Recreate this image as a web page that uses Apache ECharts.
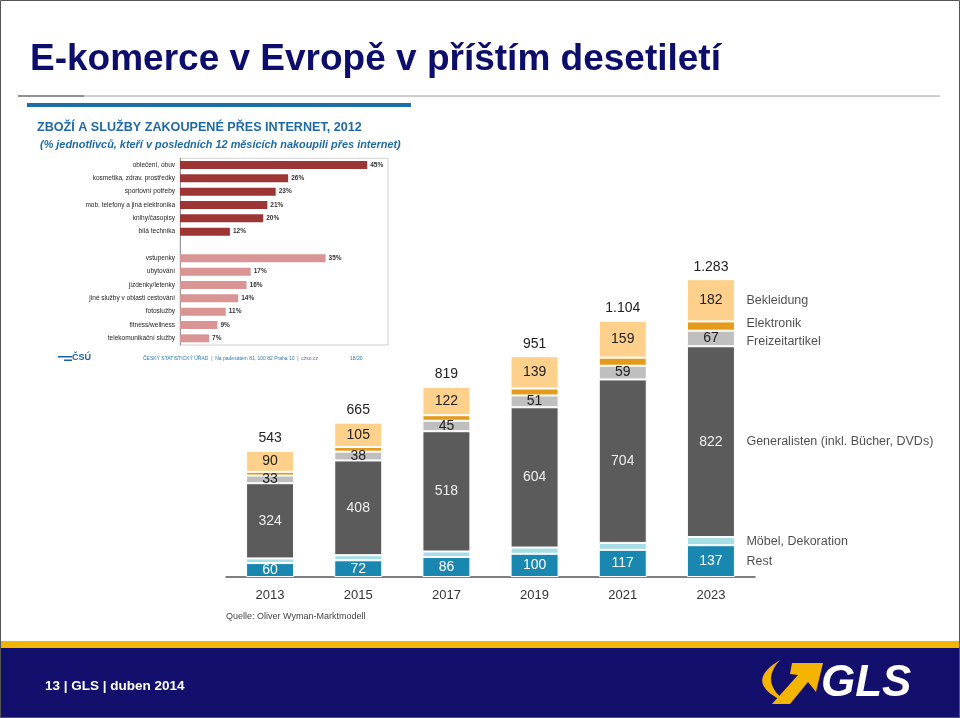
<!DOCTYPE html>
<html>
<head>
<meta charset="utf-8">
<script src="https://cdn.jsdelivr.net/npm/echarts@6/dist/echarts.min.js"></script>
<style>
html,body{margin:0;padding:0;background:#fff;}
#c{width:960px;height:718px;}
</style>
</head>
<body>
<div id="c"></div>
<script>
// ---- Main stacked chart data ----
const years = ['2013','2015','2017','2019','2021','2023'];
const rest = [60,72,86,100,117,137];
const moebel = [20,22,24,27,30,35];
const generalisten = [324,408,518,604,704,822];
const freizeit = [33,38,45,51,59,67];
const elektronik = [16,20,24,30,35,40];
const bekleidung = [90,105,122,139,159,182];
const totals = [543,665,819,951,1104,1283];
const totalLabels = ['543','665','819','951','1.104','1.283'];
const segmentNames = ['Rest','Möbel, Dekoration','Generalisten (inkl. Bücher, DVDs)','Freizeitartikel','Elektronik','Bekleidung'];

// ---- Inset chart (ČSÚ, 2012) ----
const goodsCats = ['oblečení, obuv','kosmetika, zdrav. prostředky','sportovní potřeby','mob. telefony a jiná elektronika','knihy/časopisy','bílá technika'];
const goodsVals = [45,26,23,21,20,12];
const serviceCats = ['vstupenky','ubytování','jízdenky/letenky','jiné služby v oblasti cestování','fotoslužby','fitness/wellness','telekomunikační služby'];
const serviceVals = [35,17,16,14,11,9,7];

const FONT = '"Liberation Sans", Arial, sans-serif';

const segColors = ['#1a87b0','#a6dde6','#5b5b5b','#bfbfbf','#e49b1c','#fdd18b'];
const segData = [rest, moebel, generalisten, freizeit, elektronik, bekleidung];
const segLabelShow = [true,false,true,true,false,true];
const segLabelColor = ['#ffffff','#222','#eeeeee','#222','#222','#222'];

const series = [];
segData.forEach((d, i) => {
  series.push({
    type: 'bar', name: segmentNames[i], stack: 'total',
    xAxisIndex: 0, yAxisIndex: 0,
    barWidth: 48,
    data: d,
    itemStyle: { color: segColors[i], borderColor: '#ffffff', borderWidth: 1 },
    label: { show: segLabelShow[i], position: 'inside', color: segLabelColor[i],
             fontFamily: FONT, fontSize: 14 },
    emphasis: { disabled: true }
  });
});
// totals above each column
series.push({
  type: 'line', xAxisIndex: 0, yAxisIndex: 0,
  data: totals, symbol: 'circle', symbolSize: 1, showSymbol: true,
  itemStyle: { color: 'rgba(0,0,0,0)' }, lineStyle: { width: 0, color: 'rgba(0,0,0,0)' },
  label: { show: true, position: 'top', distance: 5, color: '#222', fontFamily: FONT, fontSize: 14,
           formatter: p => totalLabels[p.dataIndex] },
  emphasis: { disabled: true },
  z: 10
});
// segment names beside the last column
const last = years.length - 1;
let cum = 0;
const nameMids = segData.map(d => { const m = cum + d[last] / 2; cum += d[last]; return m; });
const nameNudge = [0, 0, 0, 3, -3, 0];
series.push({
  type: 'scatter', xAxisIndex: 0, yAxisIndex: 0,
  symbolSize: 1, itemStyle: { color: 'rgba(0,0,0,0)' },
  data: nameMids.map((v, i) => ({ value: [last, v], name: segmentNames[i],
         label: { offset: [0, nameNudge[i]] } })),
  label: { show: true, position: 'right', distance: 35, color: '#1e1e1e', fontFamily: FONT, fontSize: 12.5,
           formatter: p => p.name },
  emphasis: { disabled: true },
  z: 10
});

const insetCats = goodsCats.concat([''], serviceCats);
const insetVals = goodsVals.map(v => ({ value: v, itemStyle: { color: '#9e3535' } }))
  .concat(['-'], serviceVals.map(v => ({ value: v, itemStyle: { color: '#d99594' } })));
series.push({
  type: 'bar', xAxisIndex: 1, yAxisIndex: 1,
  barWidth: 8, data: insetVals,
  label: { show: true, position: 'right', distance: 3, formatter: '{c}%', fontSize: 6.5,
           fontWeight: 'bold', color: '#333', fontFamily: FONT },
  emphasis: { disabled: true }
});

function txt(x, y, text, font, fill) {
  return { type: 'text', x: x, y: y, style: { text: text, font: font, fill: fill, verticalAlign: 'middle', align: 'left' } };
}
function bez(p0, p1, p2, n) {
  const pts = [];
  for (let k = 0; k <= n; k++) {
    const t = k / n, a = (1 - t) * (1 - t), b = 2 * (1 - t) * t, c = t * t;
    pts.push([a * p0[0] + b * p1[0] + c * p2[0], a * p0[1] + b * p1[1] + c * p2[1]]);
  }
  return pts;
}
const crescent = bez([780, 660], [740, 684], [790, 704], 20).concat(bez([790, 704], [758, 684], [780, 660], 20).slice(1));

const chart = echarts.init(document.getElementById('c'), null, { renderer: 'canvas' });
chart.setOption({
  animation: false,
  backgroundColor: '#ffffff',
  grid: [
    { left: 226, width: 529, top: 252, height: 325 },
    { left: 180, width: 208, top: 158.3, height: 186.7, show: true, borderColor: '#d0d0d0', borderWidth: 1 }
  ],
  xAxis: [
    { type: 'category', gridIndex: 0, data: years,
      axisLine: { lineStyle: { color: '#555', width: 1.5 } }, axisTick: { show: false },
      axisLabel: { color: '#333', fontFamily: FONT, fontSize: 13, margin: 12 } },
    { type: 'value', gridIndex: 1, min: 0, max: 50, show: false }
  ],
  yAxis: [
    { type: 'value', gridIndex: 0, min: 0, max: 1400, show: false },
    { type: 'category', gridIndex: 1, data: insetCats, inverse: true,
      axisLine: { lineStyle: { color: '#999', width: 1 } }, axisTick: { show: false },
      axisLabel: { color: '#222', fontFamily: FONT, fontSize: 6.5, margin: 5, interval: 0 } }
  ],
  series: series,
  graphic: [
    { type: 'rect', shape: { x: 0.5, y: 0.5, width: 959, height: 717 }, style: { fill: 'none', stroke: '#555', lineWidth: 1 }, z: 100 },
    txt(30, 60, 'E-komerce v Evropě v příštím desetiletí', 'bold 37px ' + FONT, '#0d0d6b'),
    { type: 'line', shape: { x1: 18, y1: 96, x2: 940, y2: 96 }, style: { stroke: '#9a9a9a', lineWidth: 1 } },
    { type: 'line', shape: { x1: 18, y1: 96, x2: 84, y2: 96 }, style: { stroke: '#555', lineWidth: 1 } },
    { type: 'rect', shape: { x: 27, y: 103, width: 384, height: 4 }, style: { fill: '#1b6fa8' } },
    txt(37, 128, 'ZBOŽÍ A SLUŽBY ZAKOUPENÉ PŘES INTERNET, 2012', 'bold 12.6px ' + FONT, '#1f6aa5'),
    txt(40, 145, '(% jednotlivců, kteří v posledních 12 měsících nakoupili přes internet)', 'italic bold 10.9px ' + FONT, '#1f6aa5'),
    { type: 'rect', shape: { x: 58, y: 356, width: 14, height: 1.5 }, style: { fill: '#1a5fa8' } },
    { type: 'rect', shape: { x: 64, y: 359.5, width: 8, height: 1.5 }, style: { fill: '#1a5fa8' } },
    txt(72, 358, 'ČSÚ', 'bold 9px ' + FONT, '#1a5fa8'),
    txt(143, 359, 'ČESKÝ STATISTICKÝ ÚŘAD  |  Na padesátém 81, 100 82 Praha 10  |  czso.cz', '5px ' + FONT, '#2a7bb5'),
    txt(350, 359, '18/20', '5px ' + FONT, '#2a7bb5'),
    txt(226, 617, 'Quelle: Oliver Wyman-Marktmodell', '9px ' + FONT, '#444'),
    { type: 'rect', shape: { x: 0, y: 641, width: 960, height: 8 }, style: { fill: '#f4b400' } },
    { type: 'rect', shape: { x: 0, y: 648, width: 960, height: 70 }, style: { fill: '#12106c' } },
    txt(45, 686, '13 | GLS | duben 2014', 'bold 13.5px ' + FONT, '#ffffff'),
    { type: 'polygon', shape: { points: crescent }, style: { fill: '#f4b400' } },
    { type: 'polygon', shape: { points: [[792,663],[823,663],[816,692],[808,682],[790,704],[772,704],[798,675],[790,674]] },
      style: { fill: '#f4b400' } },
    txt(821, 684, 'GLS', 'italic 900 44px ' + FONT, '#ffffff')
  ]
});
</script>
</body>
</html>
